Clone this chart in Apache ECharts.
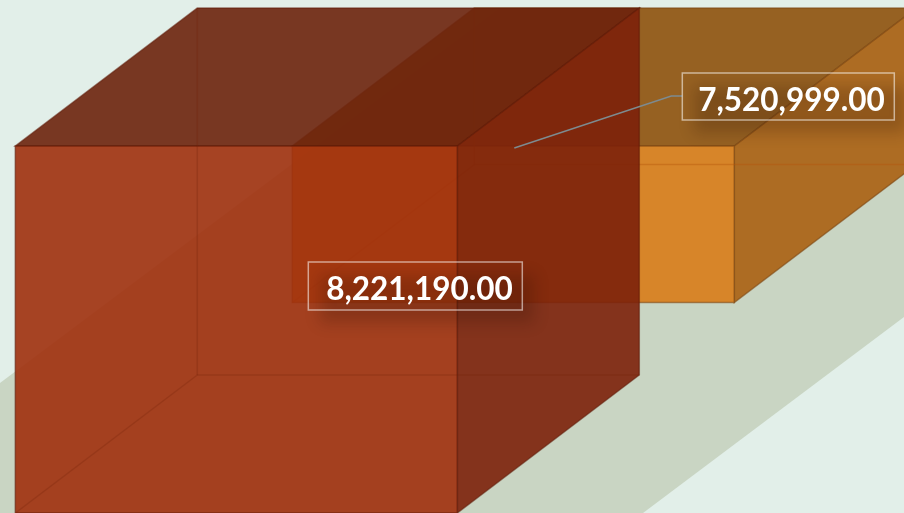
<!DOCTYPE html>
<html>
<head>
<meta charset="utf-8">
<title>3D bars</title>
<style>
  html, body { margin: 0; padding: 0; background: #e2efe9; }
  #chart { width: 904px; height: 513px; }
</style>
<script src="https://cdn.jsdelivr.net/npm/echarts@6/dist/echarts.min.js"></script>
</head>
<body>
<div id="chart"></div>
<script>
const categories = ['A', 'B']
const values = [8221190, 7520999]
const valueMin = 7000000

// oblique depth of the boxes, in px
const DEPTH_X = 182
const DEPTH_Y = 138
// bars are wider than a band, so they overlap
const BAR_BANDS = 442 / 277

const faceColors = [
  { front: 'rgba(160,48,13,0.9)', top: 'rgba(109,34,12,0.9)', side: 'rgba(124,33,10,0.9)', edge: 'rgba(95,28,10,0.55)', hidden: 'rgba(110,30,8,0.25)' },
  { front: 'rgba(216,124,24,0.9)', top: 'rgba(144,84,17,0.9)', side: 'rgba(170,97,18,0.9)', edge: 'rgba(125,72,20,0.6)', hidden: 'rgba(180,85,10,0.4)' }
]
// label box relative to the top centre of the front face
const labelBoxes = [
  { dx: 72, dy: 116, w: 214, h: 48 },
  { dx: 169, dy: -73, w: 212, h: 47 }
]

const chart = echarts.init(document.getElementById('chart'))

function poly(points, fill, stroke) {
  return { type: 'polygon', shape: { points }, style: { fill, stroke, lineWidth: 1.5 }, silent: true }
}

function line(x1, y1, x2, y2, stroke) {
  return { type: 'line', shape: { x1, y1, x2, y2 }, style: { stroke, lineWidth: 1.5, fill: null }, silent: true }
}

function frontRect(api, index) {
  const top = api.coord([index, valueMin])
  const bottom = api.coord([index, api.value(1)])
  const w = api.size([1, 0])[0] * BAR_BANDS
  return { x0: top[0] - w / 2, x1: top[0] + w / 2, y0: top[1], y1: bottom[1], cx: top[0] }
}

function renderBox(colors) {
  return function (params, api) {
    const r = frontRect(api, api.value(0))
    const dx = DEPTH_X
    const dy = DEPTH_Y
    return {
      type: 'group',
      children: [
        poly([[r.x0, r.y0], [r.x1, r.y0], [r.x1 + dx, r.y0 - dy], [r.x0 + dx, r.y0 - dy]], colors.top, colors.edge),
        poly([[r.x1, r.y0], [r.x1 + dx, r.y0 - dy], [r.x1 + dx, r.y1 - dy], [r.x1, r.y1]], colors.side, colors.edge),
        poly([[r.x0, r.y0], [r.x1, r.y0], [r.x1, r.y1], [r.x0, r.y1]], colors.front, colors.edge),
        // edges at the back show through the faces
        line(r.x0 + dx, r.y0 - dy, r.x0 + dx, r.y1 - dy, colors.hidden),
        line(r.x0 + dx, r.y1 - dy, r.x1 + dx, r.y1 - dy, colors.hidden),
        line(r.x0, r.y1, r.x0 + dx, r.y1 - dy, colors.hidden)
      ]
    }
  }
}

function renderLabel(params, api) {
  const index = api.value(0)
  const r = frontRect(api, index)
  const box = labelBoxes[index]
  const left = r.cx + box.dx
  const top = r.y0 + box.dy
  const midY = top + box.h / 2
  const children = [
    // shadow only: the casting rect sits off canvas
    {
      type: 'rect',
      shape: { x: left - 3000, y: top, width: box.w, height: box.h },
      style: { fill: '#000', shadowColor: 'rgba(40,15,0,0.22)', shadowBlur: 14, shadowOffsetX: 3012, shadowOffsetY: 13 },
      silent: true
    },
    {
      type: 'rect',
      shape: { x: left, y: top, width: box.w, height: box.h },
      style: { fill: null, stroke: 'rgba(255,255,255,0.55)', lineWidth: 1.5 },
      silent: true
    },
    {
      type: 'text',
      style: {
        x: left + box.w - 9.5,
        y: midY + 4,
        text: api.value(1).toLocaleString('en-US', { minimumFractionDigits: 2 }),
        fill: '#fff',
        font: '700 31.5px Lato',
        textAlign: 'right',
        textVerticalAlign: 'middle'
      },
      silent: true
    }
  ]
  // only the shorter bar has a leader line
  if (index === 1) {
    children.unshift(
      { type: 'polyline', shape: { points: [[r.cx + 1, r.y0 + 2], [r.cx + 158, r.y0 - 50], [left, r.y0 - 50]] }, style: { stroke: '#7d8b90', lineWidth: 1.5, fill: null }, silent: true }
    )
  }
  return { type: 'group', children }
}

chart.setOption({
  animation: false,
  backgroundColor: '#e2efe9',
  tooltip: { show: false },
  graphic: [{
    type: 'polygon',
    z: 0,
    silent: true,
    shape: { points: [[0, 383], [500, 8], [904, 8], [904, 317], [643, 513], [0, 513]] },
    style: { fill: '#c9d5c3' }
  }],
  grid: { left: 97.8, top: 146, width: 554, height: 369 },
  xAxis: { type: 'category', data: categories, show: false },
  yAxis: { type: 'value', inverse: true, min: valueMin, max: Math.max(...values), show: false },
  series: [
    { name: categories[1], type: 'custom', z: 2, clip: false, renderItem: renderBox(faceColors[1]), data: [[1, values[1]]] },
    { name: categories[0], type: 'custom', z: 3, clip: false, renderItem: renderBox(faceColors[0]), data: [[0, values[0]]] },
    { name: 'labels', type: 'custom', z: 4, clip: false, renderItem: renderLabel, data: values.map((v, i) => [i, v]) }
  ]
})
</script>
</body>
</html>
